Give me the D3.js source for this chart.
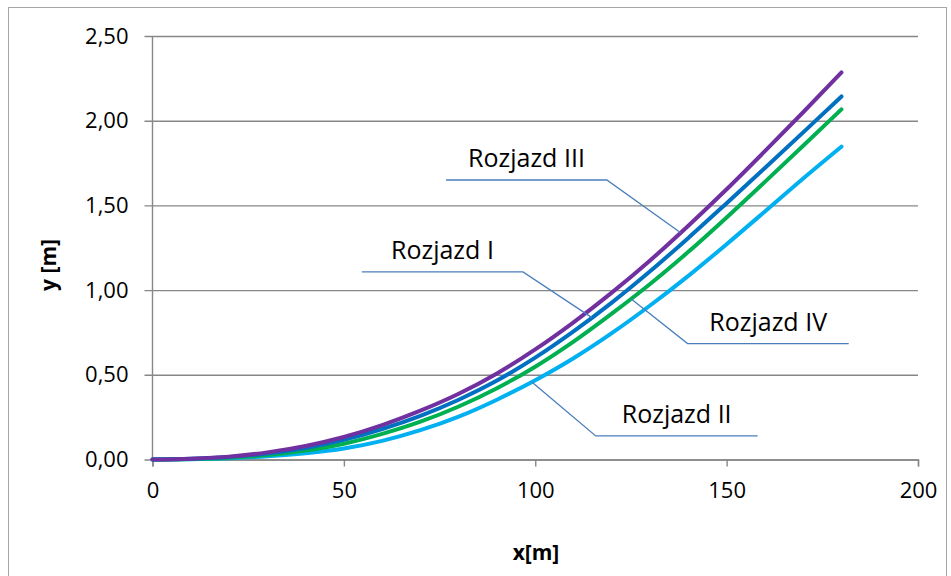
<!DOCTYPE html>
<html>
<head>
<meta charset="utf-8">
<script src="https://cdn.jsdelivr.net/npm/d3@7"></script>
<style>
  body { margin: 0; background: #fff; }
  text { font-family: "Open Sans", sans-serif; }
</style>
</head>
<body>
<div id="chart"></div>
<script>
// x values (m) for every series
var xs = [0, 10, 20, 30, 40, 50, 60, 70, 80, 90, 100, 110, 120, 130, 140, 150, 160, 170, 180];

// y values (m)
var rozjazdI = [0, 0.004, 0.015, 0.035, 0.068, 0.116, 0.18, 0.258, 0.353, 0.466, 0.601, 0.756, 0.926, 1.111, 1.308, 1.513, 1.721, 1.931, 2.143];
var rozjazdII = [0, 0.002, 0.008, 0.019, 0.037, 0.065, 0.11, 0.173, 0.253, 0.353, 0.468, 0.598, 0.746, 0.909, 1.084, 1.271, 1.464, 1.659, 1.847];
var rozjazdIII = [0, 0.005, 0.017, 0.042, 0.08, 0.133, 0.203, 0.288, 0.388, 0.508, 0.65, 0.81, 0.985, 1.175, 1.38, 1.595, 1.82, 2.05, 2.285];
var rozjazdIV = [0, 0.003, 0.011, 0.026, 0.053, 0.093, 0.151, 0.223, 0.313, 0.421, 0.548, 0.696, 0.861, 1.036, 1.226, 1.429, 1.639, 1.852, 2.067];

var yTicks = [0, 0.5, 1, 1.5, 2, 2.5];
var xTicks = [0, 50, 100, 150, 200];

// series drawn in this order (last on top)
var series = [
  { name: "Rozjazd II", values: rozjazdII, color: "#00b0f0" },
  { name: "Rozjazd IV", values: rozjazdIV, color: "#00b050" },
  { name: "Rozjazd I", values: rozjazdI, color: "#0070c0" },
  { name: "Rozjazd III", values: rozjazdIII, color: "#7030a0" }
];

// callouts: point on the curve (x), level of the flat part and its ends, in data units
var callouts = [
  { name: "Rozjazd III", series: 3, at: 138.0, level: 1.65, from: 76.7, to: 118.7 },
  { name: "Rozjazd I", series: 2, at: 114.8, level: 1.107, from: 54.7, to: 96.8 },
  { name: "Rozjazd IV", series: 1, at: 125.0, level: 0.684, from: 139.8, to: 181.9 },
  { name: "Rozjazd II", series: 0, at: 99.1, level: 0.139, from: 115.8, to: 158.1 }
];

var width = 951, height = 576;

var svg = d3.select("#chart").append("svg")
  .attr("width", width)
  .attr("height", height);

// outer frame of the chart object
svg.append("rect")
  .attr("x", 8.5).attr("y", 7.5)
  .attr("width", 938).attr("height", 580)
  .attr("fill", "none")
  .attr("stroke", "#a6a6a6")
  .attr("stroke-width", 1);

var x = d3.scaleLinear().domain([0, 200]).range([152.5, 918]);
var y = d3.scaleLinear().domain([0, 2.5]).range([459.5, 36]);

var fmt = function (d) { return d3.format(".2f")(d).replace(".", ","); };

// horizontal gridlines + y ticks
var yAxis = d3.axisLeft(y)
  .tickValues(yTicks)
  .tickSize(-(918 - 152.5))
  .tickPadding(24)
  .tickFormat(fmt);

var gy = svg.append("g")
  .attr("transform", "translate(152.5,0)")
  .call(yAxis);
gy.select(".domain").remove();
gy.selectAll(".tick line")
  .attr("x1", -8)
  .attr("stroke", "#878787")
  .attr("stroke-width", 1.4);
gy.selectAll(".tick text")
  .attr("font-size", 22)
  .attr("fill", "#000");

// y axis line
svg.append("line")
  .attr("x1", x(0)).attr("x2", x(0))
  .attr("y1", y(2.5)).attr("y2", y(0))
  .attr("stroke", "#878787")
  .attr("stroke-width", 1.4);

// x axis
var xAxis = d3.axisBottom(x)
  .tickValues(xTicks)
  .tickSize(7)
  .tickPadding(16)
  .tickFormat(d3.format("d"));

var gx = svg.append("g")
  .attr("transform", "translate(0," + y(0) + ")")
  .call(xAxis);
gx.select(".domain")
  .attr("stroke", "#878787")
  .attr("stroke-width", 1.4);
gx.selectAll(".tick line")
  .attr("stroke", "#878787")
  .attr("stroke-width", 1.4);
gx.selectAll(".tick text")
  .attr("font-size", 22)
  .attr("fill", "#000");

// axis titles
svg.append("text")
  .attr("x", 536).attr("y", 560)
  .attr("text-anchor", "middle")
  .attr("font-size", 21)
  .attr("font-weight", "bold")
  .text("x[m]");

svg.append("text")
  .attr("transform", "translate(56,265) rotate(-90)")
  .attr("text-anchor", "middle")
  .attr("font-size", 21)
  .attr("font-weight", "bold")
  .text("y [m]");

// series lines
var line = d3.line()
  .x(function (d, i) { return x(xs[i]); })
  .y(function (d) { return y(d); })
  .curve(d3.curveMonotoneX);

svg.selectAll("path.series")
  .data(series)
  .join("path")
  .attr("class", "series")
  .attr("d", function (d) { return line(d.values); })
  .attr("fill", "none")
  .attr("stroke", function (d) { return d.color; })
  .attr("stroke-width", 4)
  .attr("stroke-linecap", "round");

// value of a series at some x (linear between the read points)
function valueAt(vals, xv) {
  var i = d3.bisectRight(xs, xv) - 1;
  i = Math.max(0, Math.min(xs.length - 2, i));
  var t = (xv - xs[i]) / (xs[i + 1] - xs[i]);
  return vals[i] + t * (vals[i + 1] - vals[i]);
}

// callout leader lines and labels
var g = svg.selectAll("g.callout")
  .data(callouts)
  .join("g")
  .attr("class", "callout");

g.append("path")
  .attr("d", function (d) {
    var tx = x(d.at), ty = y(valueAt(series[d.series].values, d.at));
    var near = Math.abs(x(d.from) - tx) < Math.abs(x(d.to) - tx) ? d.from : d.to;
    var far = near === d.from ? d.to : d.from;
    return "M" + tx + "," + ty + "L" + x(near) + "," + y(d.level) + "L" + x(far) + "," + y(d.level);
  })
  .attr("fill", "none")
  .attr("stroke", "#4a7ebb")
  .attr("stroke-width", 1.3);

g.append("text")
  .attr("x", function (d) { return (x(d.from) + x(d.to)) / 2; })
  .attr("y", function (d) { return y(d.level) - 13; })
  .attr("text-anchor", "middle")
  .attr("font-size", 25)
  .attr("fill", "#000")
  .text(function (d) { return d.name; });
</script>
</body>
</html>
